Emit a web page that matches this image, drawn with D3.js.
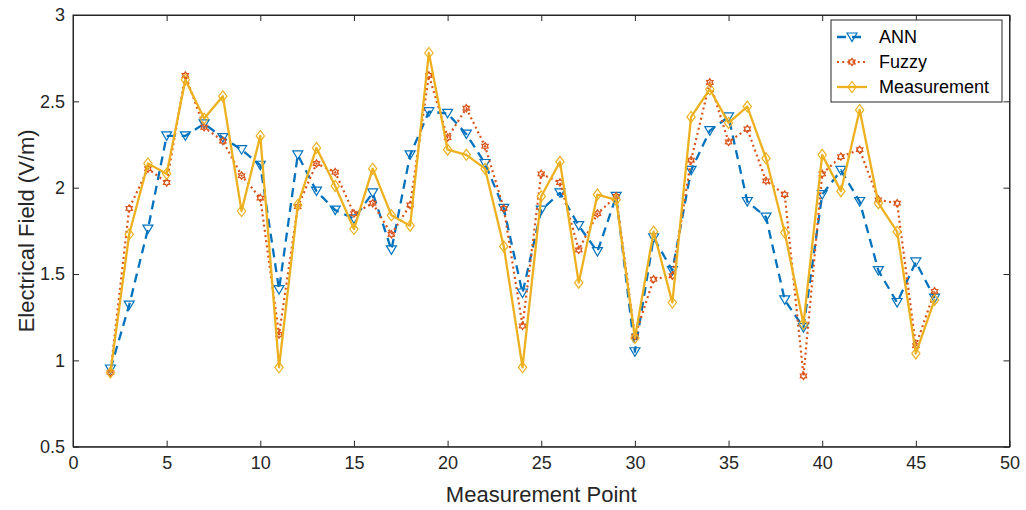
<!DOCTYPE html>
<html>
<head>
<meta charset="utf-8">
<script src="https://cdn.jsdelivr.net/npm/d3@7"></script>
<style>
  body { margin: 0; background: #fff; }
  svg { display: block; font-family: "Liberation Sans", Arial, sans-serif; }
</style>
</head>
<body>
<svg id="chart" width="1026" height="510"></svg>
<script>
const points = d3.range(2, 47);
const ann = [0.95, 1.32, 1.76, 2.30, 2.30, 2.37, 2.29, 2.22, 2.13, 1.41, 2.19, 1.98, 1.87, 1.82, 1.97, 1.64, 2.19, 2.44, 2.43, 2.31, 2.14, 1.88, 1.39, 1.87, 1.97, 1.78, 1.63, 1.95, 1.05, 1.71, 1.52, 2.10, 2.33, 2.41, 1.92, 1.83, 1.35, 1.19, 1.96, 2.10, 1.92, 1.52, 1.335, 1.57, 1.36];
const fuzzy = [0.93, 1.88, 2.11, 2.03, 2.65, 2.35, 2.27, 2.07, 1.94, 1.15, 1.89, 2.14, 2.09, 1.85, 1.91, 1.73, 1.90, 2.65, 2.29, 2.46, 2.24, 1.88, 1.20, 2.08, 2.03, 1.64, 1.85, 1.95, 1.14, 1.47, 1.49, 2.16, 2.61, 2.265, 2.34, 2.04, 1.96, 0.91, 2.08, 2.18, 2.22, 1.93, 1.91, 1.085, 1.40];
const measurement = [0.93, 1.73, 2.14, 2.08, 2.625, 2.40, 2.53, 1.865, 2.30, 0.96, 1.90, 2.23, 2.01, 1.76, 2.11, 1.84, 1.78, 2.78, 2.22, 2.19, 2.11, 1.66, 0.96, 1.95, 2.15, 1.45, 1.96, 1.93, 1.13, 1.745, 1.335, 2.41, 2.57, 2.375, 2.47, 2.17, 1.74, 1.21, 2.19, 1.98, 2.45, 1.91, 1.745, 1.04, 1.35];
const xTicks = [0, 5, 10, 15, 20, 25, 30, 35, 40, 45, 50];
const yTicks = [0.5, 1, 1.5, 2, 2.5, 3];
const seriesNames = ["ANN", "Fuzzy", "Measurement"];

const series = [
  { name: seriesNames[0], values: ann, color: "#0072BD", dash: "9,6", width: 2.3, marker: "tri" },
  { name: seriesNames[1], values: fuzzy, color: "#D95319", dash: "2,3.2", width: 2.2, marker: "hex" },
  { name: seriesNames[2], values: measurement, color: "#EDB120", dash: null, width: 2.3, marker: "dia" }
];

const svg = d3.select("#chart");
const L = 73, R = 1009.5, T = 15, B = 446.7;
const x = d3.scaleLinear().domain([0, 50]).range([L, R]);
const y = d3.scaleLinear().domain([0.5, 3]).range([B, T]);
const axisColor = "#262626";

svg.append("rect").attr("x", L).attr("y", T).attr("width", R - L).attr("height", B - T)
  .attr("fill", "none").attr("stroke", axisColor).attr("stroke-width", 1);

const tl = 6;
const gx = svg.append("g").attr("transform", `translate(0,${B})`)
  .call(d3.axisBottom(x).tickValues(xTicks).tickSizeInner(-tl).tickSizeOuter(0).tickPadding(10).tickFormat(d3.format("d")));
const gxTop = svg.append("g").attr("transform", `translate(0,${T})`)
  .call(d3.axisTop(x).tickValues(xTicks).tickSizeInner(-tl).tickSizeOuter(0).tickFormat(""));
const gy = svg.append("g").attr("transform", `translate(${L},0)`)
  .call(d3.axisLeft(y).tickValues(yTicks).tickSizeInner(-tl).tickSizeOuter(0).tickPadding(8).tickFormat(d => d));
const gyR = svg.append("g").attr("transform", `translate(${R},0)`)
  .call(d3.axisRight(y).tickValues(yTicks).tickSizeInner(-tl).tickSizeOuter(0).tickFormat(""));
[gx, gxTop, gy, gyR].forEach(g => {
  g.select(".domain").attr("stroke", axisColor);
  g.selectAll(".tick line").attr("stroke", axisColor);
  g.selectAll("text").attr("fill", axisColor).style("font-size", "18px")
    .style("font-family", '"Liberation Sans", Arial, sans-serif');
});
gx.selectAll("text").attr("dy", "0.71em");

svg.append("text").attr("x", (L + R) / 2).attr("y", 502).attr("text-anchor", "middle")
  .attr("fill", axisColor).style("font-size", "22px").text("Measurement Point");
svg.append("text").attr("transform", `translate(34,${(T + B) / 2}) rotate(-90)`).attr("text-anchor", "middle")
  .attr("fill", axisColor).style("font-size", "22px").text("Electrical Field (V/m)");

function drawMarker(g, type, cx, cy, color) {
  if (type === "tri") {
    const s = 5;
    g.append("path").attr("d", `M${cx - s},${cy - s * 0.8}L${cx + s},${cy - s * 0.8}L${cx},${cy + s * 0.9}Z`)
      .attr("fill", "none").attr("stroke", color).attr("stroke-width", 1.2);
  } else if (type === "hex") {
    const r = 3.6;
    const pts = d3.range(12).map(k => {
      const a = -Math.PI / 2 + k * Math.PI / 6;
      const rr = k % 2 === 0 ? r : r * 0.62;
      return [cx + rr * Math.cos(a), cy + rr * Math.sin(a)];
    });
    g.append("path").attr("d", "M" + pts.map(p => p.join(",")).join("L") + "Z")
      .attr("fill", "none").attr("stroke", color).attr("stroke-width", 1.3);
  } else {
    const s = 5.5;
    g.append("path").attr("d", `M${cx},${cy - s}L${cx + s * 0.75},${cy}L${cx},${cy + s}L${cx - s * 0.75},${cy}Z`)
      .attr("fill", "none").attr("stroke", color).attr("stroke-width", 1.2);
  }
}

const line = d3.line().x((d, i) => x(points[i])).y(d => y(d));
series.forEach(s => {
  const g = svg.append("g");
  g.append("path").datum(s.values).attr("d", line).attr("fill", "none")
    .attr("stroke", s.color).attr("stroke-width", s.width)
    .attr("stroke-dasharray", s.dash).attr("stroke-linejoin", "round").attr("stroke-linecap", s.dash ? "butt" : "round");
  s.values.forEach((v, i) => drawMarker(g, s.marker, x(points[i]), y(v), s.color));
});

const lg = svg.append("g");
lg.append("rect").attr("x", 831).attr("y", 20).attr("width", 171).attr("height", 82)
  .attr("fill", "#fff").attr("stroke", axisColor).attr("stroke-width", 1);
series.forEach((s, i) => {
  const cy = 37 + i * 25;
  lg.append("line").attr("x1", 837).attr("x2", 867).attr("y1", cy).attr("y2", cy)
    .attr("stroke", s.color).attr("stroke-width", s.width).attr("stroke-dasharray", s.dash);
  drawMarker(lg, s.marker, 852, cy, s.color);
  lg.append("text").attr("x", 879).attr("y", cy).attr("dy", "0.35em").attr("fill", "#000")
    .style("font-size", "18px").text(s.name);
});
</script>
</body>
</html>
